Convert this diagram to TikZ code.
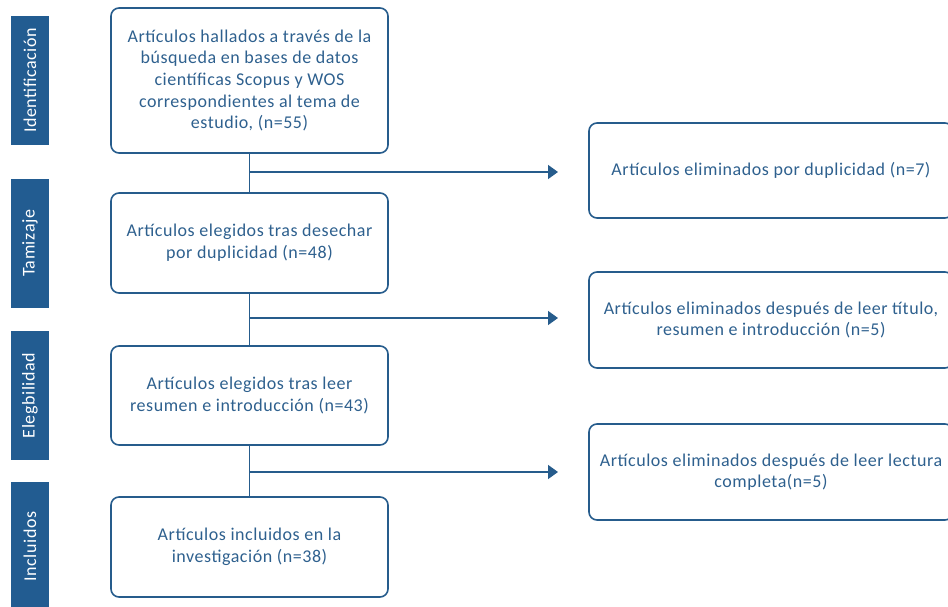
\documentclass[tikz,border=0pt]{standalone}
\usepackage{fontspec}
\setmainfont{Carlito}[LetterSpace=3]
\usetikzlibrary{arrows.meta,calc}
\definecolor{band}{RGB}{34,92,145}
\definecolor{bord}{RGB}{38,92,140}
\definecolor{txt}{RGB}{46,96,142}
\tikzset{
  x=1pt,y=-1pt,
  mainbox/.style={draw=bord,line width=1.6pt,rounded corners=8pt,minimum width=277pt,
    text=txt,align=center,font=\fontsize{18}{21.7}\selectfont,inner sep=0pt},
  sidebox/.style={draw=bord,line width=1.6pt,rounded corners=8pt,minimum width=364pt,
    text=txt,align=center,font=\fontsize{18}{20.8}\selectfont,inner sep=0pt},
  bandbox/.style={fill=band,minimum height=38pt,minimum width=129pt,inner sep=0pt,
    text=white,font=\fontsize{18}{20}\selectfont,rotate=90},
  link/.style={draw=bord,line width=1.6pt},
  arr/.style={link,-{Triangle[length=10pt,width=14pt]}}
}
\begin{document}
\begin{tikzpicture}
\useasboundingbox (0,0) rectangle (948,607);
\clip (0,0) rectangle (948,607);
% bands
\node[bandbox] (s1) at (30,80.5) {Identificación};
\node[bandbox] (s2) at (30,243.5) {Tamizaje};
\node[bandbox] (s3) at (30,395.5) {Elegbilidad};
\node[bandbox] (s4) at (30,546.5) {Incluidos};
% main boxes
\node[mainbox,minimum height=145pt] (b1) at (249.5,80.5) {Artículos hallados a través de la\\búsqueda en bases de datos\\científicas Scopus y WOS\\correspondientes al tema de\\estudio, (n=55)};
\node[mainbox,minimum height=100pt] (b2) at (249.5,243) {Artículos elegidos tras desechar\\por duplicidad (n=48)};
\node[mainbox,minimum height=99pt] (b3) at (249.5,395.5) {Artículos elegidos tras leer\\resumen e introducción (n=43)};
\node[mainbox,minimum height=100pt] (b4) at (249.5,547) {Artículos incluidos en la\\investigación (n=38)};
% side boxes
\node[sidebox,minimum height=95pt] (r1) at (771,170.5) {Artículos eliminados por duplicidad (n=7)};
\node[sidebox,minimum height=96pt] (r2) at (771,320) {Artículos eliminados después de leer título,\\resumen e introducción (n=5)};
\node[sidebox,minimum height=96pt] (r3) at (771,472) {Artículos eliminados después de leer lectura\\completa(n=5)};
% connectors
\coordinate (t1) at (558,172);
\coordinate (t2) at (558,318);
\coordinate (t3) at (558,472);
\draw[link] (b1.south) -- (b2.north);
\draw[link] (b2.south) -- (b3.north);
\draw[link] (b3.south) -- (b4.north);
\draw[arr] (b1.south |- t1) -- (t1);
\draw[arr] (b2.south |- t2) -- (t2);
\draw[arr] (b3.south |- t3) -- (t3);
\end{tikzpicture}
\end{document}
